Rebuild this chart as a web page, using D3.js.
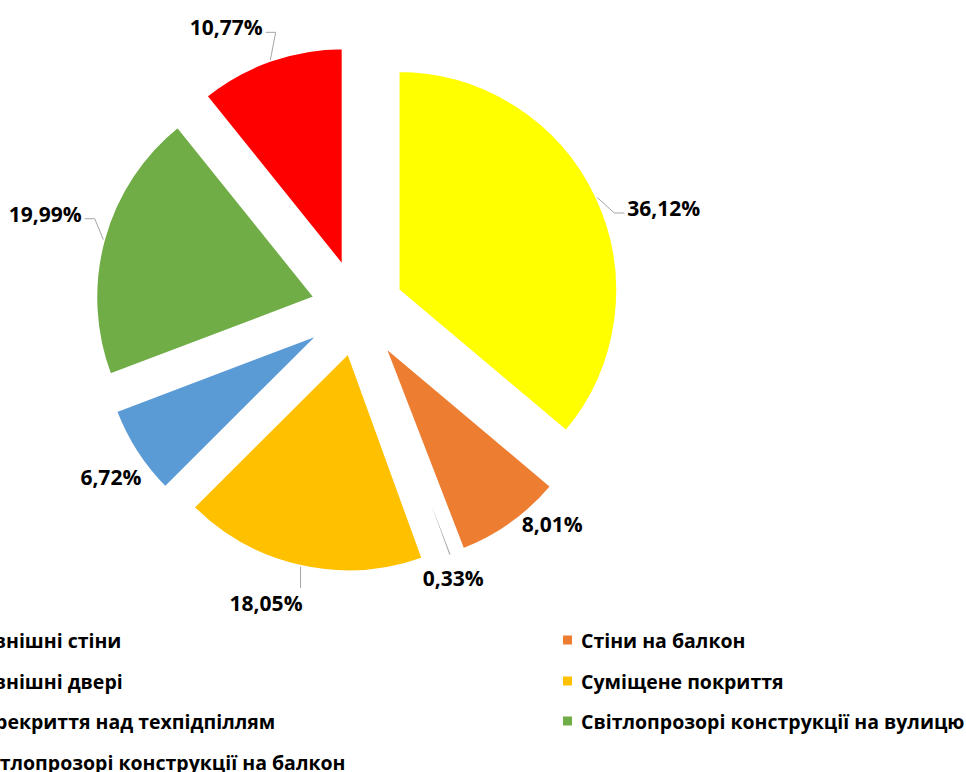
<!DOCTYPE html>
<html>
<head>
<meta charset="utf-8">
<script src="https://cdn.jsdelivr.net/npm/d3@7"></script>
<style>
  html, body { margin: 0; padding: 0; background: #fff; }
  svg { display: block; }
  text { font-family: "Open Sans", "DejaVu Sans", sans-serif; font-weight: 700; fill: #000; }
</style>
</head>
<body>
<svg id="chart" width="966" height="772"></svg>
<script>
// ---- data ----
const categories = [
  "Зовнішні стіни",
  "Стіни на балкон",
  "Зовнішні двері",
  "Суміщене покриття",
  "Перекриття над техпідпіллям",
  "Світлопрозорі конструкції на вулицю",
  "Світлопрозорі конструкції на балкон"
];
const values = [36.12, 8.01, 0.33, 18.05, 6.72, 19.99, 10.77];
const colors = ["#FFFF00", "#ED7D31", "#A5A5A5", "#FFC000", "#5B9BD5", "#70AD47", "#FF0000"];

// ---- layout (label placement nudges in polar terms: [angle shift deg, radius]) ----
const labelPolar = [[6.7, 322], [-6.5, 290], [1.0, 285], [4.8, 308], [-1.4, 299], [1.7, 327], [-5.7, 311]];

const svg = d3.select("#chart");
const cx = 358, cy = 309, R = 220, explode = 44;

const pie = d3.pie().sort(null).value(d => d)(values);
const arc = d3.arc().innerRadius(0).outerRadius(R);

const g = svg.append("g").attr("transform", `translate(${cx},${cy})`);

function mid(d) { return (d.startAngle + d.endAngle) / 2; }
function polar(a, r) { return [Math.sin(a) * r, -Math.cos(a) * r]; }

g.selectAll("path.slice")
  .data(pie)
  .join("path")
  .attr("class", "slice")
  .attr("d", arc)
  .attr("fill", (d, i) => colors[i])
  .attr("stroke", "#fff")
  .attr("stroke-width", 3.4)
  .attr("stroke-linejoin", "round")
  .attr("transform", d => { const [x, y] = polar(mid(d), explode); return `translate(${x},${y})`; });

// labels
const fmt = v => v.toFixed(2).replace(".", ",") + "%";
const labels = g.selectAll("text.lbl")
  .data(pie)
  .join("text")
  .attr("class", "lbl")
  .attr("font-size", 21)
  .attr("text-anchor", "middle")
  .attr("dominant-baseline", "central")
  .attr("x", (d, i) => polar(mid(d) + labelPolar[i][0] * Math.PI / 180, labelPolar[i][1])[0])
  .attr("y", (d, i) => polar(mid(d) + labelPolar[i][0] * Math.PI / 180, labelPolar[i][1])[1])
  .text(d => fmt(d.data));

// leader lines
labels.each(function (d, i) {
  const bb = this.getBBox();
  const pad = 3;
  const x0 = bb.x - pad, x1 = bb.x + bb.width + pad;
  const y0 = bb.y + 2 - pad, y1 = bb.y + bb.height - 2 + pad;
  const [mx, my] = polar(mid(d), explode + R);
  const nx = Math.max(x0, Math.min(x1, mx));
  const ny = Math.max(y0, Math.min(y1, my));
  const dist = Math.hypot(nx - mx, ny - my);
  if (dist < 15) return;
  let pts;
  const cyL = bb.y + bb.height / 2 + 5;
  if (my >= y0 && my <= y1 + 20 && (mx < x0 || mx > x1)) {
    const side = mx < x0 ? x0 : x1;
    const stub = mx < x0 ? -10 : 10;
    pts = [[mx, my], [side + stub, cyL], [side, cyL]];
  } else if (mx >= x0 && mx <= x1) {
    pts = [[mx, my], [mx, ny]];
  } else {
    pts = [[mx, my], [nx, ny]];
  }
  g.append("path")
    .attr("d", d3.line()(pts))
    .attr("fill", "none")
    .attr("stroke", "#A6A6A6")
    .attr("stroke-width", 1);
});

// legend
const legendCols = [-31, 581];
const legendRows = [640, 681, 721, 762];
const leg = svg.append("g");
const items = leg.selectAll("g.item")
  .data(categories)
  .join("g")
  .attr("class", "item")
  .attr("transform", (d, i) => `translate(${legendCols[i % 2]},${legendRows[Math.floor(i / 2)]})`);
items.append("rect")
  .attr("x", -18).attr("y", -4.5)
  .attr("width", 9).attr("height", 9)
  .attr("fill", (d, i) => colors[i]);
items.append("text")
  .attr("font-size", 19.5)
  .attr("dominant-baseline", "central")
  .attr("x", 0).attr("y", 0)
  .text(d => d);
</script>
</body>
</html>
